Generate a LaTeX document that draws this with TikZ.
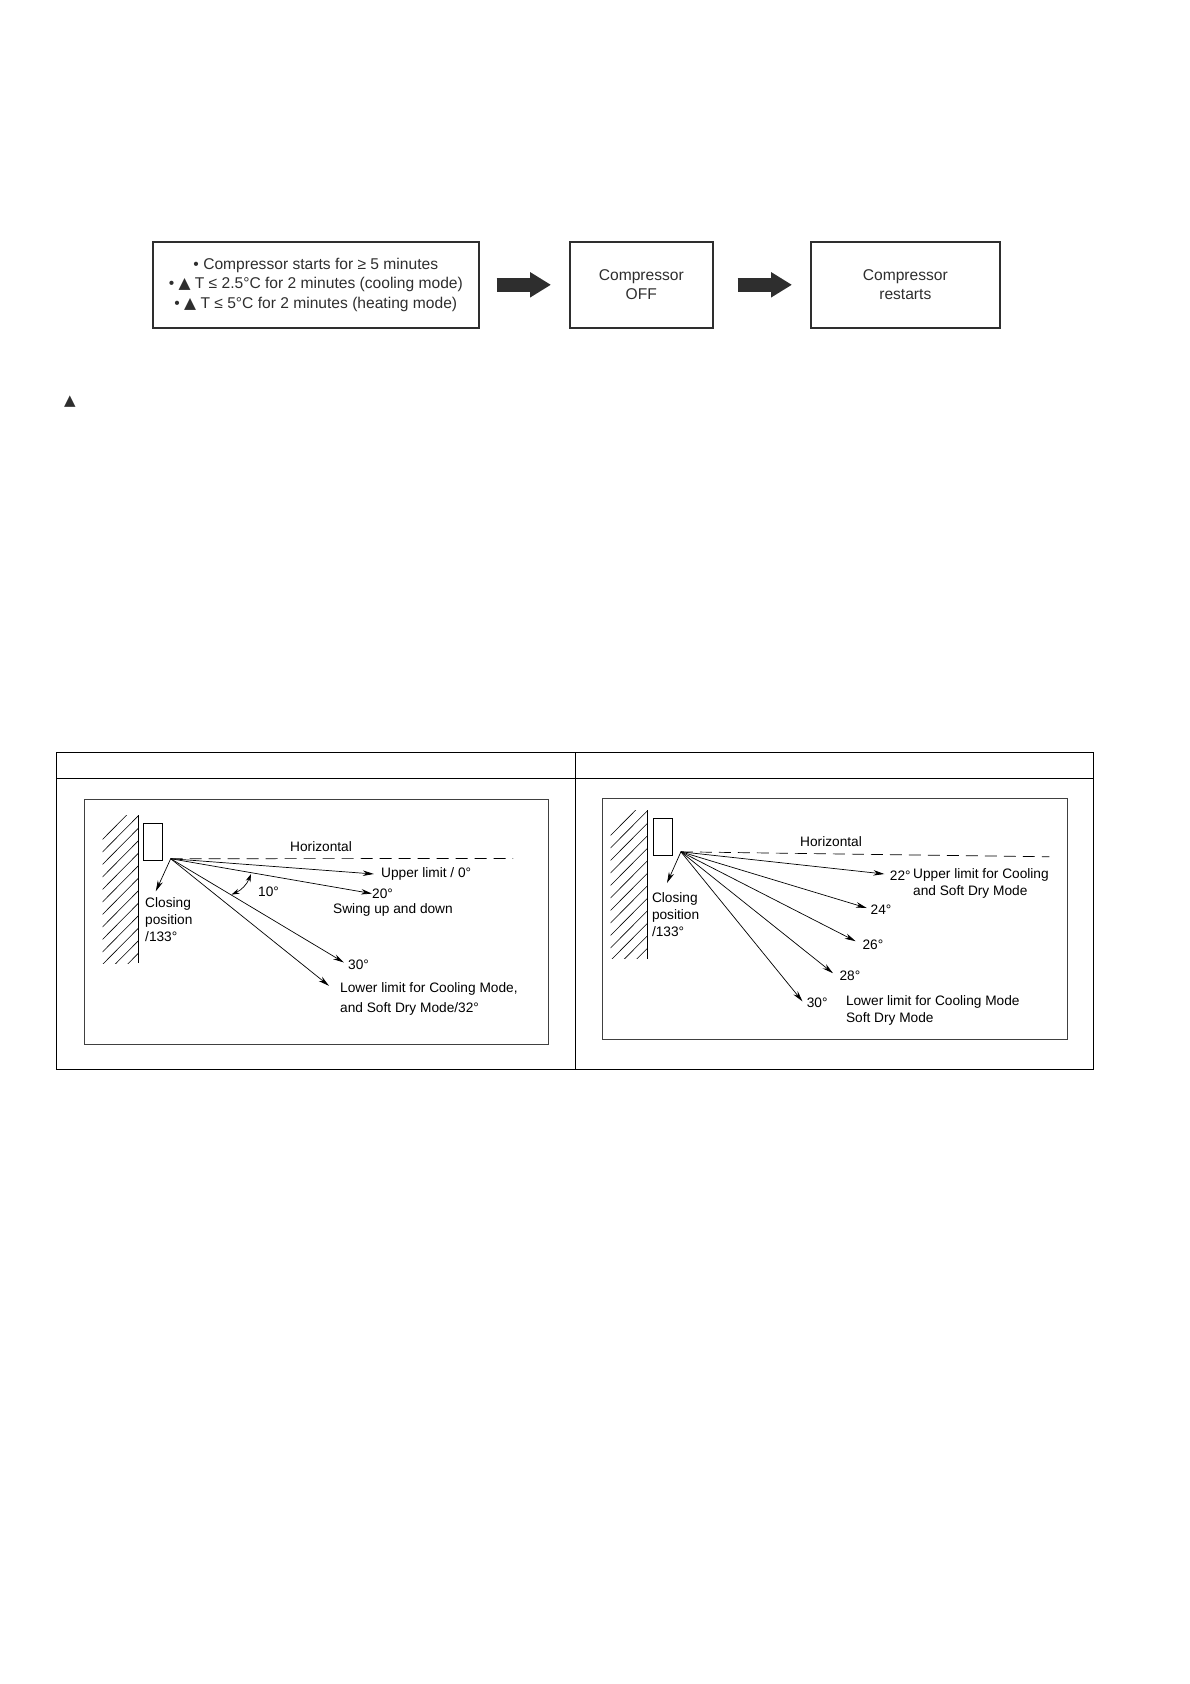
\documentclass[tikz,border=0pt]{standalone}
\usepackage{fontspec}
\setmainfont{Liberation Sans}
\newfontfamily\symfont{DejaVu Sans}
\usepackage{tikz}
\usetikzlibrary{arrows.meta}
\definecolor{flowgray}{HTML}{2E2E2E}
\newcommand{\deltatri}{{\symfont ▲}}
\tikzstyle{flowbox}=[rectangle,draw=flowgray,line width=1.6pt,anchor=north west,inner sep=0pt,text=flowgray,align=center,font=\fontsize{15.6}{19.5}\selectfont]
\tikzstyle{flowarr}=[-{Triangle[length=21pt,width=24pt]},draw=flowgray,line width=14pt]
\tikzstyle{panel}=[draw=black!75,line width=1pt]
\tikzstyle{lab}=[anchor=west,inner sep=0pt,align=left,font=\fontsize{13.7}{17}\selectfont]
\tikzstyle{arr}=[-{Stealth[length=11pt,width=5.5pt]},draw,line width=0.7pt]
\tikzstyle{biarr}=[{Stealth[length=8pt,width=5pt]}-{Stealth[length=8pt,width=5pt]},draw,line width=0.7pt]
\tikzstyle{dasharr}=[draw,line width=0.7pt,dash pattern=on 12pt off 7pt]
\begin{document}
\begin{tikzpicture}[x=1pt,y=-1pt]
      \useasboundingbox (0,0) rectangle (1190,1684);
      % flow chart
      \node[flowbox,minimum width=326pt,minimum height=86pt] (starts) at (152,241) {• Compressor starts for ≥ 5 minutes\\• \deltatri{} T ≤ 2.5°C for 2 minutes (cooling mode)\\• \deltatri{} T ≤ 5°C for 2 minutes (heating mode)};
      \node[flowbox,minimum width=143pt,minimum height=86pt] (off) at (569,241) {Compressor\\OFF};
      \node[flowbox,minimum width=189pt,minimum height=86pt] (restarts) at (810,241) {Compressor\\restarts};
      \draw[flowarr,shorten <=17pt,shorten >=18pt] (starts) -- (off);
      \draw[flowarr,shorten <=24pt,shorten >=18pt] (off) -- (restarts);
      \node[inner sep=0pt,font=\fontsize{15}{18}\selectfont,text=flowgray] (note) at (70,402) {\deltatri};
      % table
      \draw[line width=0.8pt] (56,752) rectangle (1093,1069);
      \draw[line width=0.8pt] (56,778) -- (1093,778);
      \draw[line width=0.8pt] (575.5,752) -- (575.5,1069);
      % left panel
      \draw[panel] (84,799) rectangle (548.5,1044);
      \draw[line width=0.7pt] (138.6,815) -- (138.6,963);
      \begin{scope}
        \clip (102.5,815) rectangle (138.6,963);
        \foreach \y in {803,815.5,...,980} \draw[line width=0.6pt] (138.6,\y) -- (98,\y+41);
      \end{scope}
      \draw[line width=0.7pt] (143.6,823) rectangle (162.6,860);
      \coordinate (apexL) at (170.7,858.7);
      \coordinate (dashL) at (513,858.5);
      \node[lab] (horL) at (290,846.4) {Horizontal};
      \node[lab] (upL) at (381,874) {Upper limit / 0°};
      \node[lab] (twentyL) at (372,893.6) {20°};
      \node[lab] (swingL) at (333,910) {Swing up and down};
      \node[lab] (tenL) at (258,892) {10°};
      \node[lab] (closeL) at (145,919.8) {Closing\\position\\/133°};
      \node[lab] (thirtyL) at (348,964.4) {30°};
      \node[lab,font=\fontsize{13.7}{20}\selectfont] (lowL) at (340,999) {Lower limit for Cooling Mode,\\and Soft Dry Mode/32°};
      \coordinate (swingA) at (251,874);
      \coordinate (swingB) at (231.5,894.6);
      \draw[dasharr] (apexL) -- (dashL);
      \draw[arr] (apexL) -- (373.8,874);
      \draw[arr] (apexL) -- (twentyL.west);
      \draw[arr] (apexL) -- (344,962.5);
      \draw[arr] (apexL) -- (329,985.8);
      \draw[arr] (apexL) -- (155.8,891.3);
      \draw[biarr,bend left=22] (swingA) to (swingB);
      % right panel
      \draw[panel] (602,798) rectangle (1067,1039.6);
      \draw[line width=0.7pt] (647.7,810) -- (647.7,958.5);
      \begin{scope}
        \clip (610.5,810) rectangle (647.7,958.5);
        \foreach \y in {798,810.5,...,975} \draw[line width=0.6pt] (647.7,\y) -- (607,\y+41);
      \end{scope}
      \draw[line width=0.7pt] (653,818.5) rectangle (672,855.2);
      \coordinate (apexR) at (680.9,851.8);
      \coordinate (dashR) at (1049.3,856.8);
      \node[lab] (horR) at (800,842) {Horizontal};
      \node[lab] (a22R) at (889.7,876) {22°};
      \node[lab] (upR) at (913,883.3) {Upper limit for Cooling\\and Soft Dry Mode};
      \node[lab] (a24R) at (870.5,909.3) {24°};
      \node[lab] (a26R) at (862.4,944.6) {26°};
      \node[lab] (a28R) at (839.4,976) {28°};
      \node[lab] (a30R) at (806.6,1002.8) {30°};
      \node[lab] (lowR) at (845.8,1010) {Lower limit for Cooling Mode\\Soft Dry Mode};
      \node[lab] (closeR) at (651.8,914.2) {Closing\\position\\/133°};
      \draw[dasharr] (apexR) -- (dashR);
      \draw[arr] (apexR) -- (884.3,874);
      \draw[arr] (apexR) -- (866.8,908);
      \draw[arr] (apexR) -- (855.6,941.2);
      \draw[arr] (apexR) -- (833,973.2);
      \draw[arr] (apexR) -- (802.5,1001.4);
      \draw[arr] (apexR) -- (667,883);
  \end{tikzpicture}
\end{document}
